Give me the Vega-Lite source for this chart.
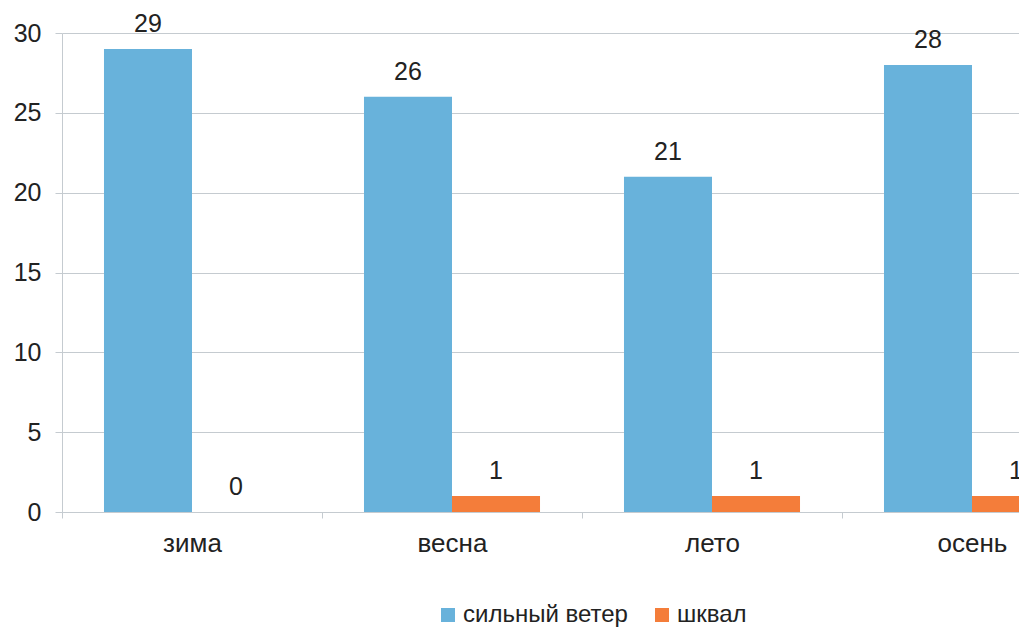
{
  "$schema": "https://vega.github.io/schema/vega-lite/v6.json",
  "autosize": "none",
  "width": 957,
  "height": 479,
  "padding": {"left": 62, "top": 33, "right": 0, "bottom": 116},
  "background": "white",
  "config": {
    "font": "Liberation Sans",
    "view": {"stroke": null},
    "axis": {
      "labelFont": "Liberation Sans",
      "labelColor": "#222222",
      "domainColor": "#C5CBD0",
      "tickColor": "#C5CBD0",
      "gridColor": "#C5CBD0",
      "title": null
    }
  },
  "data": {
    "values": [
      {"season": "зима", "series": "сильный ветер", "count": 29},
      {"season": "зима", "series": "шквал", "count": 0},
      {"season": "весна", "series": "сильный ветер", "count": 26},
      {"season": "весна", "series": "шквал", "count": 1},
      {"season": "лето", "series": "сильный ветер", "count": 21},
      {"season": "лето", "series": "шквал", "count": 1},
      {"season": "осень", "series": "сильный ветер", "count": 28},
      {"season": "осень", "series": "шквал", "count": 1}
    ]
  },
  "encoding": {
    "x": {
      "field": "season",
      "type": "nominal",
      "sort": ["зима", "весна", "лето", "осень"],
      "scale": {"range": [0, 1040], "paddingInner": 0, "paddingOuter": 0},
      "axis": {
        "labelAngle": 0,
        "labelFontSize": 26,
        "tickBand": "extent",
        "tickSize": 6,
        "labelPadding": 12,
        "grid": false
      }
    },
    "xOffset": {
      "field": "series",
      "type": "nominal",
      "sort": ["сильный ветер", "шквал"],
      "scale": {"paddingInner": 0, "paddingOuter": 0.477}
    },
    "y": {
      "field": "count",
      "type": "quantitative",
      "scale": {"domain": [0, 30], "nice": false},
      "axis": {
        "values": [0, 5, 10, 15, 20, 25, 30],
        "labelFontSize": 25,
        "tickSize": 7,
        "labelPadding": 14,
        "grid": true
      }
    }
  },
  "layer": [
    {
      "mark": {"type": "bar"},
      "encoding": {
        "color": {
          "field": "series",
          "type": "nominal",
          "sort": ["сильный ветер", "шквал"],
          "scale": {"range": ["#68B2DB", "#F47D3A"]},
          "legend": {
            "title": null,
            "orient": "none",
            "direction": "horizontal",
            "legendX": 374,
            "legendY": 570,
            "symbolType": "square",
            "symbolSize": 196,
            "symbolStrokeWidth": 0,
            "labelFontSize": 24,
            "labelFont": "Liberation Sans",
            "labelColor": "#222222",
            "labelLimit": 400,
            "labelOffset": 3,
            "columnPadding": 22
          }
        }
      }
    },
    {
      "mark": {
        "type": "text",
        "baseline": "alphabetic",
        "dy": -17,
        "fontSize": 25,
        "font": "Liberation Sans",
        "color": "#222222"
      },
      "encoding": {
        "text": {"field": "count", "type": "quantitative"}
      }
    }
  ]
}
